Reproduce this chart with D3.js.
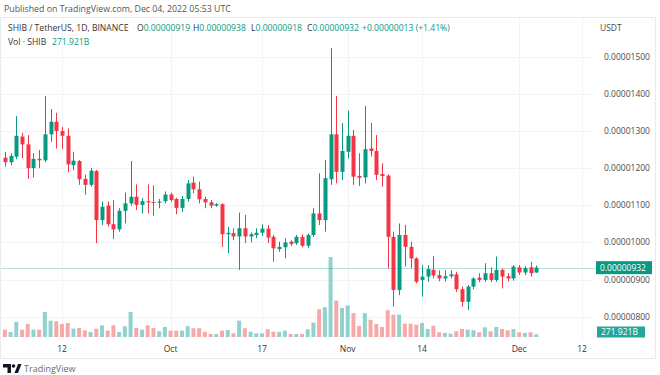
<!DOCTYPE html>
<html>
<head>
<meta charset="utf-8">
<script src="https://cdn.jsdelivr.net/npm/d3@7"></script>
<style>
  html, body { margin: 0; padding: 0; background: #fff; }
  svg { display: block; font-family: "Open Sans", sans-serif; }
</style>
</head>
<body>
<svg id="chart" width="660" height="375"></svg>
<script>
// daily candles SHIB/USDT, 2022-09-02 .. 2022-12-04, prices in 1e-8 USDT
const open = [1228, 1216, 1231, 1285, 1264, 1200, 1225, 1221, 1291, 1325, 1300, 1287, 1208, 1219, 1171, 1155,
  1192, 1060, 1099, 1049, 1035, 1085, 1105, 1123, 1101, 1111, 1109, 1107, 1111, 1129, 1117, 1093,
  1117, 1161, 1143, 1117, 1108, 1099, 1103, 1022, 1025, 1016, 1038, 1016, 1020, 1026, 1037, 1015,
  982, 987, 1002, 998, 1015, 991, 1020, 1078, 1060, 1170, 1291, 1190, 1244, 1287, 1179, 1175,
  1253, 1246, 1184, 1180, 1015, 872, 1020, 988, 957, 899, 908, 926, 912, 903, 909, 914,
  874, 840, 881, 905, 899, 917, 899, 926, 909, 903, 933, 919, 933, 919];
const high = [1244, 1240, 1340, 1295, 1289, 1240, 1249, 1394, 1359, 1349, 1311, 1307, 1244, 1222, 1182, 1200,
  1195, 1110, 1110, 1114, 1092, 1134, 1219, 1156, 1119, 1156, 1154, 1117, 1137, 1134, 1120, 1125,
  1168, 1177, 1164, 1123, 1114, 1106, 1105, 1042, 1038, 1080, 1074, 1027, 1038, 1049, 1047, 1020,
  1002, 1011, 1006, 1020, 1022, 1024, 1092, 1186, 1222, 1523, 1394, 1321, 1355, 1303, 1240, 1367,
  1322, 1289, 1213, 1183, 1029, 1051, 1047, 1002, 960, 939, 939, 963, 925, 925, 925, 921,
  881, 885, 906, 917, 944, 933, 962, 930, 917, 939, 939, 936, 948, 938];
const low = [1204, 1208, 1224, 1227, 1171, 1175, 1200, 1216, 1271, 1253, 1252, 1189, 1195, 1155, 1128, 1150,
  998, 1047, 1042, 1009, 1029, 1051, 1099, 1087, 1078, 1078, 1072, 1092, 1105, 1110, 1076, 1082,
  1110, 1132, 1105, 1092, 1092, 1096, 988, 971, 1006, 926, 998, 1000, 1011, 1017, 998, 948,
  975, 957, 990, 993, 987, 985, 1015, 1047, 1029, 1155, 1159, 1168, 1226, 1155, 1152, 1159,
  1231, 1168, 1150, 930, 827, 858, 935, 930, 890, 854, 894, 903, 895, 895, 903, 867,
  827, 818, 874, 893, 894, 893, 894, 876, 895, 897, 912, 912, 908, 918];
const close = [1216, 1233, 1287, 1264, 1200, 1225, 1221, 1291, 1325, 1300, 1287, 1210, 1220, 1170, 1155, 1193,
  1060, 1096, 1049, 1035, 1085, 1105, 1123, 1101, 1111, 1108, 1107, 1110, 1129, 1114, 1093, 1117,
  1159, 1143, 1116, 1108, 1099, 1103, 1022, 1026, 1016, 1038, 1016, 1022, 1026, 1037, 1013, 984,
  988, 1000, 996, 1015, 991, 1020, 1078, 1060, 1173, 1291, 1190, 1246, 1287, 1177, 1174, 1251,
  1246, 1182, 1179, 1015, 872, 1020, 988, 957, 894, 908, 928, 911, 903, 909, 914, 874,
  840, 881, 903, 899, 917, 899, 926, 908, 903, 935, 919, 931, 917, 932];
// volume in billions of SHIB
const volume = [730, 500, 1500, 730, 1300, 730, 730, 2500, 1630, 1570, 1300, 1400, 830, 900, 670, 500,
  830, 1170, 630, 1170, 500, 1070, 2500, 900, 730, 1170, 900, 570, 1000, 630, 630, 630,
  1080, 870, 870, 530, 300, 300, 630, 700, 370, 1630, 870, 530, 370, 370, 770, 530,
  500, 630, 300, 300, 300, 770, 1430, 2770, 2970, 7970, 3630, 2900, 3150, 2380, 1110, 2380,
  1720, 1300, 1000, 2670, 2230, 2230, 1330, 1330, 1230, 1400, 800, 1130, 470, 400, 330, 570,
  800, 730, 670, 470, 970, 570, 1000, 800, 670, 800, 470, 400, 470, 271.921];

const priceTicks = [800, 900, 1000, 1100, 1200, 1300, 1400, 1500];
const timeTicks = [
  new Date(Date.UTC(2022, 8, 12)), new Date(Date.UTC(2022, 9, 1)), new Date(Date.UTC(2022, 9, 17)),
  new Date(Date.UTC(2022, 10, 1)), new Date(Date.UTC(2022, 10, 14)), new Date(Date.UTC(2022, 11, 1)),
  new Date(Date.UTC(2022, 11, 12))
];
const timeTickLabels = ["12", "Oct", "17", "Nov", "14", "Dec", "12"];

const UP = "#089981";
const DOWN = "#f23645";
const UP_VOL = "#92d2cc";
const DOWN_VOL = "#f7a9a7";
const GRID = "#f0f3fa";

const dates = d3.utcDay.range(new Date(Date.UTC(2022, 8, 2)), new Date(Date.UTC(2022, 11, 5)));
const candles = dates.map((date, i) => ({
  date, open: open[i], high: high[i], low: low[i], close: close[i], volume: volume[i]
}));

const svg = d3.select("#chart");
const plotRight = 592;

const x = d3.scaleUtc()
  .domain([timeTicks[0], timeTicks[timeTicks.length - 1]])
  .range([62, 582]);
const y = d3.scaleLinear().domain([800, 1500]).range([316.7, 56.7]);
const yVol = d3.scaleLinear().domain([0, d3.max(volume)]).range([337, 257]);
const fmtPrice = (v) => (v * 1e-8).toFixed(8);

// frame
svg.append("rect")
  .attr("x", 0.5).attr("y", 17.5).attr("width", 655).attr("height", 341)
  .attr("fill", "none").attr("stroke", "#e9ebef");

// grid
svg.append("g").selectAll("line").data(priceTicks).join("line")
  .attr("x1", 1).attr("x2", plotRight)
  .attr("y1", (d) => Math.round(y(d)) + 0.5).attr("y2", (d) => Math.round(y(d)) + 0.5)
  .attr("stroke", GRID);
svg.append("g").selectAll("line").data(timeTicks).join("line")
  .attr("x1", (d) => Math.round(x(d)) + 0.5).attr("x2", (d) => Math.round(x(d)) + 0.5)
  .attr("y1", 18).attr("y2", 340)
  .attr("stroke", GRID);

// volume
const barW = 4;
svg.append("g").selectAll("rect").data(candles).join("rect")
  .attr("x", (d) => x(d.date) - barW / 2)
  .attr("width", barW)
  .attr("y", (d) => yVol(d.volume))
  .attr("height", (d) => yVol(0) - yVol(d.volume))
  .attr("fill", (d) => (d.close >= d.open ? UP_VOL : DOWN_VOL));

// last price line
const last = candles[candles.length - 1];
svg.append("line")
  .attr("x1", 1).attr("x2", 596)
  .attr("y1", Math.round(y(last.close)) + 0.5).attr("y2", Math.round(y(last.close)) + 0.5)
  .attr("stroke", UP).attr("stroke-opacity", 0.3);

// candles
const bodyW = 4;
const candle = svg.append("g").selectAll("g").data(candles).join("g")
  .attr("fill", (d) => (d.close >= d.open ? UP : DOWN))
  .attr("stroke", (d) => (d.close >= d.open ? UP : DOWN));
candle.append("line")
  .attr("x1", (d) => Math.round(x(d.date)) + 0.5).attr("x2", (d) => Math.round(x(d.date)) + 0.5)
  .attr("y1", (d) => y(d.high)).attr("y2", (d) => y(d.low))
  .attr("stroke-width", 1);
candle.append("rect")
  .attr("x", (d) => Math.round(x(d.date)) + 0.5 - bodyW / 2)
  .attr("width", bodyW)
  .attr("y", (d) => y(Math.max(d.open, d.close)))
  .attr("height", (d) => Math.max(1, Math.abs(y(d.open) - y(d.close))))
  .attr("stroke", "none");

// price axis
svg.append("g").selectAll("text").data(priceTicks).join("text")
  .attr("x", 604).attr("y", (d) => y(d) + 3)
  .attr("font-size", 8.5).attr("fill", "#4a4a4a")
  .text(fmtPrice);
svg.append("text").attr("x", 600).attr("y", 31)
  .attr("font-size", 8.5).attr("fill", "#4a4a4a").text("USDT");

// last price tag
svg.append("rect")
  .attr("x", 596).attr("y", y(last.close) - 6.5).attr("width", 56).attr("height", 13)
  .attr("fill", UP);
svg.append("text")
  .attr("x", 600).attr("y", y(last.close) + 3)
  .attr("font-size", 8.5).attr("fill", "#fff").text(fmtPrice(last.close));

// volume tag
const volTagY = Math.min(yVol(last.volume), 332);
svg.append("rect")
  .attr("x", 597).attr("y", volTagY - 5.5).attr("width", 48).attr("height", 11)
  .attr("fill", "#26a69a");
svg.append("text")
  .attr("x", 601).attr("y", volTagY + 3)
  .attr("font-size", 8.5).attr("fill", "#fff").text(d3.format(".3f")(last.volume) + "B");

// time axis
svg.append("g").selectAll("text").data(timeTicks).join("text")
  .attr("x", (d) => x(d)).attr("y", 351.5)
  .attr("text-anchor", "middle")
  .attr("font-size", 8.5).attr("fill", "#333")
  .text((d, i) => timeTickLabels[i]);

// header
svg.append("text").attr("x", 4).attr("y", 12)
  .attr("font-size", 8.8).attr("fill", "#555")
  .text("Published on TradingView.com, Dec 04, 2022 05:53 UTC");

const legendY = 31;
svg.append("text").attr("x", 8).attr("y", legendY)
  .attr("font-size", 8.6).attr("fill", "#333")
  .text("SHIB / TetherUS, 1D, BINANCE");
const ohlc = [
  ["O", last.open, 137], ["H", last.high, 193], ["L", last.low, 251], ["C", last.close, 307]
];
ohlc.forEach(([k, v, px]) => {
  const t = svg.append("text").attr("x", px).attr("y", legendY).attr("font-size", 8.6);
  t.append("tspan").attr("fill", "#333").text(k);
  t.append("tspan").attr("fill", UP).text(fmtPrice(v));
});
const change = last.close - open[open.length - 1];
svg.append("text").attr("x", 362).attr("y", legendY)
  .attr("font-size", 8.6).attr("fill", UP)
  .text(`+${fmtPrice(change)} (+${(change / open[open.length - 1] * 100).toFixed(2)}%)`);

const volLegend = svg.append("text").attr("x", 8).attr("y", 45).attr("font-size", 8.6);
volLegend.append("tspan").attr("fill", "#333").text("Vol · SHIB");
volLegend.append("tspan").attr("x", 52).attr("fill", UP).text(d3.format(".3f")(last.volume) + "B");

// footer logo
const logo = svg.append("g").attr("fill", "#131722");
logo.append("path").attr("d", "M3 364h8v9h-3.5v-5.5H3z");
logo.append("circle").attr("cx", 13.5).attr("cy", 366).attr("r", 1.8);
logo.append("path").attr("d", "M14.5 373l3.5-9h3.5l-3.5 9z");
svg.append("text").attr("x", 24).attr("y", 372)
  .attr("font-size", 9).attr("fill", "#6a6d78").text("TradingView");
</script>
</body>
</html>
